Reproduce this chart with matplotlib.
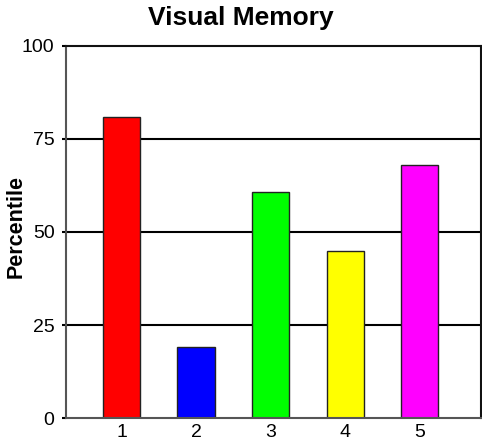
import matplotlib
matplotlib.use("Agg")
import matplotlib.pyplot as plt

categories = ["1", "2", "3", "4", "5"]
values = [80.8, 19.2, 60.8, 45.0, 67.9]
colors = ["#ff0000", "#0000ff", "#00ff00", "#ffff00", "#ff00ff"]
yticks = [0, 25, 50, 75, 100]
title = "Visual Memory"
ylabel = "Percentile"

plt.rcParams['font.family'] = ['Liberation Sans', 'DejaVu Sans']

fig = plt.figure(figsize=(4.82, 4.44), dpi=100)
ax = fig.add_axes([65.7/482, 1-418.3/444, (480.8-65.7)/482, (418.3-45.7)/444])

x = list(range(1, len(categories)+1))
ax.set_axisbelow(True)
for y in [25, 50, 75]:
    ax.axhline(y, color="black", lw=1.5, zorder=1)
ax.bar(x, values, width=0.5, color=colors, edgecolor="#222222", linewidth=1.0, zorder=2)

ax.set_xlim(0.25, 5.82)
ax.set_ylim(0, 100)
ax.set_xticks(x)
ax.set_xticklabels(categories)
ax.set_yticks(yticks)
ax.tick_params(axis='x', length=0, pad=4, labelsize=14)
ax.tick_params(axis='y', length=3, width=1.5, pad=5, labelsize=14, color="black")

for side in ["left", "bottom"]:
    ax.spines[side].set_color("#555555")
    ax.spines[side].set_linewidth(1.5)
for side in ["top", "right"]:
    ax.spines[side].set_color("#111111")
    ax.spines[side].set_linewidth(1.5)

fig.text(16/482, 1-226/444, ylabel, ha="center", va="center", rotation=90,
         fontsize=15.5, fontweight="bold")
fig.text(241/482, 1-18/444, title, ha="center", va="center", fontsize=19, fontweight="bold")

fig.savefig("out.png", dpi=100)
